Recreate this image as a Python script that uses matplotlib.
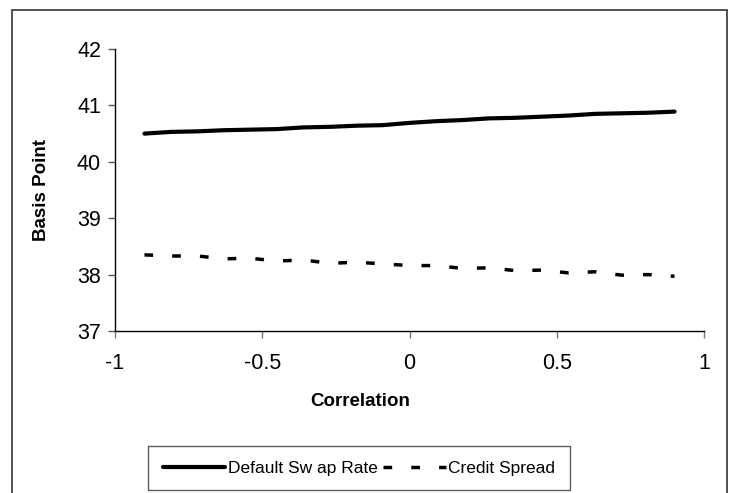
import matplotlib
matplotlib.use("Agg")
import matplotlib.pyplot as plt
from matplotlib.patches import Rectangle
import numpy as np

# data
correlation = [-0.90, -0.81, -0.72, -0.63, -0.54, -0.45, -0.36, -0.27, -0.18, -0.09, 0.00,
               0.09, 0.18, 0.27, 0.36, 0.45, 0.54, 0.63, 0.72, 0.81, 0.90]
swap_rate = [40.50, 40.53, 40.54, 40.56, 40.57, 40.58, 40.61, 40.62, 40.64, 40.65, 40.69,
             40.72, 40.74, 40.77, 40.78, 40.80, 40.82, 40.85, 40.86, 40.87, 40.89]
credit_spread = [38.35, 38.33, 38.33, 38.28, 38.29, 38.24, 38.26, 38.20, 38.22, 38.19, 38.16,
                 38.16, 38.11, 38.12, 38.07, 38.08, 38.03, 38.05, 37.99, 38.00, 37.97]
x_ticks = [-1, -0.5, 0, 0.5, 1]
x_ticklabels = ["-1", "-0.5", "0", "0.5", "1"]
y_ticks = [37, 38, 39, 40, 41, 42]

plt.rcParams['font.family'] = ['Liberation Sans', 'DejaVu Sans']

W, H = 730, 493
fig = plt.figure(figsize=(W / 100, H / 100), dpi=100)

# plot area in pixels: left 115, right 704, top 49, bottom 331
ax = fig.add_axes([115 / W, 1 - 331 / H, (704 - 115) / W, (331 - 49) / H])

ax.plot(correlation, swap_rate, color="black", lw=3.0, solid_capstyle="round",
        label="Default Sw ap Rate")
ax.plot(correlation, credit_spread, color="black", lw=2.5, dashes=(2.5, 5.5),
        dash_capstyle="butt", label="Credit Spread")

ax.set_xlim(-1, 1)
ax.set_ylim(37, 42)
ax.set_xticks(x_ticks)
ax.set_xticklabels(x_ticklabels)
ax.set_yticks(y_ticks)

for s in ["top", "right"]:
    ax.spines[s].set_visible(False)
for s in ["left", "bottom"]:
    ax.spines[s].set_linewidth(1.0)
    ax.spines[s].set_color("black")

ax.tick_params(axis="y", direction="out", length=5, width=1, color="#555555",
               labelsize=15.5, pad=5)
ax.tick_params(axis="x", direction="out", length=5, width=1, color="#777777",
               labelsize=15.5, pad=11)

fig.text(42 / W, 1 - 190 / H, "Basis Point", rotation=90, ha="center", va="center",
         fontsize=13.5, fontweight="bold")
fig.text(360 / W, 1 - 402 / H, "Correlation", ha="center", va="center",
         fontsize=13.5, fontweight="bold")

leg = fig.legend(loc="center", bbox_to_anchor=(359 / W, 1 - 468 / H), ncol=2,
                 fontsize=12.5, frameon=True, fancybox=False, shadow=False,
                 handlelength=3.6, handletextpad=0.15, columnspacing=0.3,
                 borderpad=0.85, borderaxespad=0)
leg.get_frame().set_edgecolor("#333333")
leg.get_frame().set_linewidth(1.0)

# outer chart border
fig.patches.append(Rectangle((12 / W, -0.05), (727 - 12) / W, 1 - 10 / H + 0.05,
                             transform=fig.transFigure, fill=False,
                             edgecolor="#333333", lw=1.2))

fig.savefig("out.png", dpi=100)
